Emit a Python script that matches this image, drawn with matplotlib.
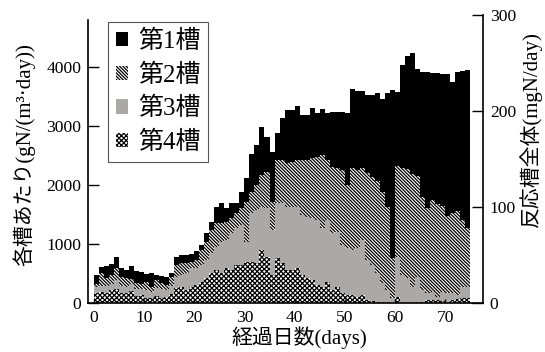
import numpy as np
import matplotlib
matplotlib.use("Agg")
import matplotlib.pyplot as plt
from matplotlib.patches import Patch

plt.rcParams['font.family'] = ['Liberation Serif', 'Noto Sans CJK JP']
plt.rcParams['hatch.linewidth'] = 0.9

# days 0..74, one bar per day
days = list(range(75))

# per tank load, gN/(m3 day)
tank4 = [170, 200, 180, 230, 240, 170, 180, 210, 120, 140, 100, 90, 130, 100, 110, 160, 260, 280,
         225, 282, 310, 366, 422, 507, 563, 507, 591, 563, 648, 648, 704, 704, 676, 901, 788, 479,
         760, 676, 563, 563, 591, 479, 422, 394, 310, 282, 366, 225, 282, 169, 141, 141, 112, 141,
         56, 40, 20, 20, 15, 5, 112, 10, 10, 10, 20, 30, 56, 56, 56, 40, 20, 56, 70, 84, 100]
tank3 = [100, 100, 110, 100, 160, 130, 100, 120, 120, 110, 120, 110, 130, 140, 120, 140, 190, 200,
         282, 309, 281, 282, 310, 338, 394, 535, 479, 620, 619, 675, 338, 817, 901, 732, 818, 760,
         930, 1014, 1070, 1070, 1042, 1013, 1042, 1042, 1098, 985, 1042, 958, 929, 816, 788, 760,
         817, 929, 676, 608, 487, 318, 210, 95, 676, 469, 412, 272, 430, 195, 113, 144, 56, 160,
         149, 113, 80, 196, 182]
tank2 = [56, 207, 132, 149, 191, 150, 142, 90, 98, 76, 146, 81, 134, 98, 80, 140, 198, 196,
         169, 113, 141, 253, 310, 394, 395, 310, 310, 253, 254, 283, 676, 366, 423, 536, 619, 479,
         732, 732, 733, 761, 789, 930, 958, 1014, 1070, 1239, 1014, 1126, 1070, 1268, 1071, 1380,
         1324, 1211, 1465, 1492, 1563, 1549, 1408, 660, 1542, 1811, 1848, 1898, 1710, 1575, 1437,
         1550, 1568, 1450, 1311, 1361, 1410, 1130, 985]
tank1 = [152, 112, 208, 185, 197, 141, 141, 216, 214, 209, 129, 237, 84, 123, 140, 78, 140, 140,
         140, 136, 148, 84, 141, 141, 281, 338, 226, 254, 169, 281, 394, 631, 676, 816, 591, 845,
         451, 705, 902, 874, 913, 761, 761, 856, 733, 774, 789, 919, 947, 975, 1211, 1337, 1341,
         1313, 1324, 1381, 1480, 1566, 1916, 2845, 1247, 1737, 1910, 2056, 1795, 2115, 2298, 2148,
         2207, 2230, 2390, 2216, 2355, 2522, 2676]

labels = ['第1槽', '第2槽', '第3槽', '第4槽']

HATCH2 = '\\' * 10
HATCH4 = 'x' * 7

fig = plt.figure(figsize=(5.45, 3.52), dpi=100)
ax = fig.add_axes([0.162, 0.138, 0.724, 0.819])

b4 = np.array(tank4)
b3 = b4 + np.array(tank3)
b2 = b3 + np.array(tank2)

ax.bar(days, tank4, width=1.0, align='edge', color='white', edgecolor='black',
       hatch=HATCH4, linewidth=0)
ax.bar(days, tank3, width=1.0, align='edge', bottom=b4, color='#aba8a8', linewidth=0)
ax.bar(days, tank2, width=1.0, align='edge', bottom=b3, color='white', edgecolor='black',
       hatch=HATCH2, linewidth=0)
ax.bar(days, tank1, width=1.0, align='edge', bottom=b2, color='black', linewidth=0)

ax.set_xlim(-1.1, 77.5)
ax.set_ylim(0, 4872)
ax.set_xticks([0, 10, 20, 30, 40, 50, 60, 70])
ax.set_yticks([0, 1000, 2000, 3000, 4000])
ax.tick_params(axis='y', direction='in', length=8, width=1, labelsize=12.6, pad=5)
ax.tick_params(axis='x', direction='in', length=3, width=1, labelsize=12.6, pad=5)
for s in ['top', 'right']:
    ax.spines[s].set_visible(False)
ax.spines['left'].set_bounds(0, 4790)
ax.spines['left'].set_linewidth(1.2)
ax.spines['bottom'].set_linewidth(1.2)

ax2 = ax.twinx()
ax2.set_ylim(0, 300)
ax2.set_yticks([0, 100, 200, 300])
ax2.tick_params(axis='y', direction='in', length=8, width=1, labelsize=12.6, pad=5)
for s in ['top', 'left', 'bottom']:
    ax2.spines[s].set_visible(False)
ax2.spines['right'].set_linewidth(1.2)

fig.text(0.044, 0.56, '各槽あたり(gN/(m³·day))', rotation=90, ha='center', va='center', fontsize=15)
fig.text(0.974, 0.633, '反応槽全体(mgN/day)', rotation=90, ha='center', va='center', fontsize=15)
fig.text(0.55, 0.042, '経過日数(days)', ha='center', va='center', fontsize=15)

handles = [Patch(facecolor='black', linewidth=0),
           Patch(facecolor='white', edgecolor='black', hatch=HATCH2, linewidth=0),
           Patch(facecolor='#aba8a8', linewidth=0),
           Patch(facecolor='white', edgecolor='black', hatch=HATCH4, linewidth=0)]
leg = ax.legend(handles, labels, loc='upper left', bbox_to_anchor=(0.05, 0.976),
                borderaxespad=0, fontsize=18, handlelength=0.5, handleheight=0.5,
                handletextpad=0.4, labelspacing=0.42, borderpad=0.3, fancybox=False,
                framealpha=1)
leg.get_frame().set_edgecolor('#555555')
leg.get_frame().set_linewidth(0.8)

fig.savefig('out.png', dpi=100)
